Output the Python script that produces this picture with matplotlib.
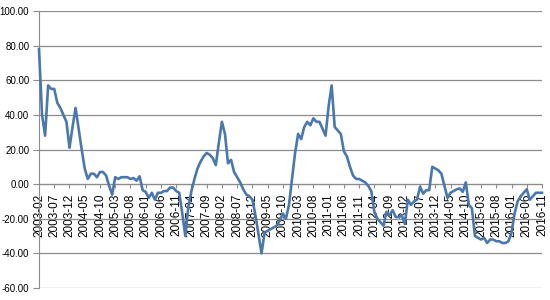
import matplotlib
matplotlib.use('Agg')
import matplotlib.pyplot as plt
import pandas as pd

# monthly categories 2003-02 .. 2016-11
months = pd.date_range('2003-02', '2016-11', freq='MS').strftime('%Y-%m').tolist()

values = [
    78, 40, 28, 57, 55, 55, 47, 44, 40, 36,
    21, 33, 44, 32, 20, 9, 3, 6, 6, 4,
    7, 7, 5, -1, -6, 4, 3, 4, 4, 4,
    3, 3.5, 2, 4.5, -3.5, -4.5, -8, -5, -9, -5,
    -5, -4, -4, -2, -2, -4, -5, -17, -30, -13,
    -4, 3, 9, 13, 16, 18, 17, 15, 11, 24,
    36, 29, 12, 14, 7, 4, 1, -3, -6, -7,
    -9, -18, -29, -40, -28, -27, -26, -25, -24, -21,
    -17, -20, -12, 3, 18, 29, 26, 33, 36, 34,
    38, 36, 36, 32, 28, 45, 57, 33, 31, 29,
    19, 16, 10, 5, 3, 3, 2, 1, -1, -4,
    -16, -20, -22, -24, -16, -18, -15, -19, -19, -18,
    -23, -9, -12, -10, -9, -1.5, -5.5, -3.5, -3.5, 10,
    9, 8, 6, -1, -8, -5, -4, -3, -2.5, -4.5,
    1, -12, -14, -30, -31, -32, -31, -34, -32, -32,
    -33, -33, -34, -34, -33, -28, -17, -10, -7, -5,
    -3, -9, -7, -5, -5, -5,
]

yticks = list(range(-60, 101, 20))

plt.rcParams['font.family'] = ['Liberation Sans', 'DejaVu Sans']
grid_c = '#8c8c8c'

fig = plt.figure(figsize=(5.5, 3), dpi=100)
ax = fig.add_axes([39/550, 12/300, 503/550, 277/300])

# spine position first: moving it resets the tick labels
for s in ['top', 'right']:
    ax.spines[s].set_visible(False)
ax.spines['left'].set_color(grid_c)
ax.spines['bottom'].set_color(grid_c)
ax.spines['bottom'].set_position(('data', 0))

x = list(range(len(months)))
ax.plot(x, values, color='#4a78ad', lw=1.9, solid_joinstyle='round', clip_on=False, zorder=3)

ax.set_xlim(0, len(months) - 1)
ax.set_ylim(-60, 100)
ax.set_yticks(yticks)
ax.set_yticklabels(['%.2f' % v for v in yticks], fontsize=7)
ax.set_xticks(x[::5])
ax.set_xticklabels(months[::5], rotation=90, fontsize=8.5)

ax.yaxis.grid(True, color=grid_c, lw=0.9)
ax.set_axisbelow(True)
ax.tick_params(axis='x', length=3, color=grid_c, pad=4)
ax.tick_params(axis='y', length=4, color=grid_c, pad=3)

plt.savefig('out.png', dpi=100)
plt.close(fig)
